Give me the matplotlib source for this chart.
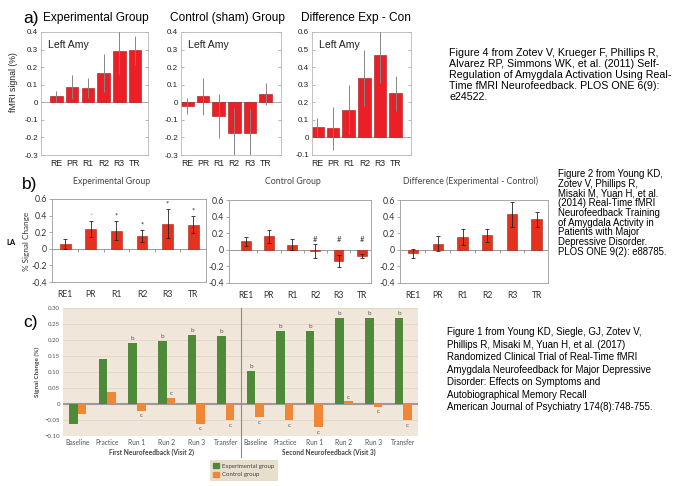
import numpy as np
import matplotlib
matplotlib.use("Agg")
import matplotlib.pyplot as plt
from matplotlib.patches import Patch

# ---------------- data ----------------
a_categories = ["RE", "PR", "R1", "R2", "R3", "TR"]
a_exp_values = [0.033, 0.088, 0.082, 0.167, 0.293, 0.295]
a_exp_errors = [0.032, 0.070, 0.055, 0.108, 0.130, 0.080]
a_con_values = [-0.022, 0.033, -0.078, -0.175, -0.177, 0.045]
a_con_errors = [0.045, 0.107, 0.125, 0.140, 0.140, 0.063]
a_dif_values = [0.057, 0.053, 0.158, 0.340, 0.468, 0.250]
a_dif_errors = [0.052, 0.123, 0.140, 0.160, 0.160, 0.100]

b_categories = ["RE1", "PR", "R1", "R2", "R3", "TR"]
b_exp_values = [0.060, 0.240, 0.220, 0.155, 0.300, 0.290]
b_exp_errors = [0.060, 0.100, 0.120, 0.075, 0.175, 0.105]
b_exp_marks = ["", "*", "*", "*", "*", "*"]
b_exp_mark_colors = ["k", "#f2a255", "#222222", "#222222", "#222222", "#222222"]
b_con_values = [0.100, 0.163, 0.060, -0.010, -0.135, -0.078]
b_con_errors = [0.060, 0.080, 0.065, 0.085, 0.070, 0.025]
b_con_marks = ["", "", "", "#", "#", "#"]
b_dif_values = [-0.040, 0.073, 0.155, 0.175, 0.430, 0.367]
b_dif_errors = [0.053, 0.090, 0.100, 0.080, 0.150, 0.090]

c_categories = ["Baseline", "Practice", "Run 1", "Run 2", "Run 3", "Transfer",
                "Baseline", "Practice", "Run 1", "Run 2", "Run 3", "Transfer"]
c_exp_values = [-0.062, 0.142, 0.190, 0.197, 0.216, 0.214,
                 0.102, 0.229, 0.229, 0.270, 0.270, 0.268]
c_con_values = [-0.031, 0.039, -0.021, 0.019, -0.062, -0.051,
                -0.041, -0.051, -0.072, 0.008, -0.009, -0.051]
c_exp_sig = ["", "", "b", "b", "b", "b", "b", "b", "b", "b", "b", "b"]
c_con_sig = ["", "", "c", "c", "c", "c", "c", "c", "c", "c", "c", "c"]
c_groups = ["First Neurofeedback (Visit 2)", "Second Neurofeedback (Visit 3)"]
c_series = ["Experimental group", "Control group"]

text_a = ["Figure 4 from Zotev V, Krueger F, Phillips R,",
          "Alvarez RP, Simmons WK, et al. (2011) Self-",
          "Regulation of Amygdala Activation Using Real-",
          "Time fMRI Neurofeedback. PLOS ONE 6(9):",
          "e24522."]
text_b = ["Figure 2 from Young KD,",
          "Zotev V, Phillips R,",
          "Misaki M, Yuan H, et al.",
          "(2014) Real-Time fMRI",
          "Neurofeedback Training",
          "of Amygdala Activity in",
          "Patients with Major",
          "Depressive Disorder.",
          "PLOS ONE 9(2): e88785."]
text_c = ["Figure 1 from Young KD, Siegle, GJ, Zotev V,",
          "Phillips R, Misaki M, Yuan H, et al. (2017)",
          "Randomized Clinical Trial of Real-Time fMRI",
          "Amygdala Neurofeedback for Major Depressive",
          "Disorder: Effects on Symptoms and",
          "Autobiographical Memory Recall",
          "American Journal of Psychiatry 174(8):748-755."]

# ---------------- layout helpers ----------------
W, H = 685, 486
fig = plt.figure(figsize=(W / 100, H / 100), dpi=100)
ARIAL = "Liberation Sans"
CAL = "Lato"


def box(l, t, r, b):
    return [l / W, 1 - b / H, (r - l) / W, (b - t) / H]


def ftext(x, y, s, **kw):
    return fig.text(x / W, 1 - y / H, s, **kw)


# ---------------- panel a ----------------
A_RED = "#ec1f26"


def panel_a(rect, vals, errs, ylim, yticks, xlim):
    ax = fig.add_axes(rect)
    x = np.arange(1, len(vals) + 1)
    ax.axhline(0, color="#a0a0a0", lw=0.6, zorder=1)
    ax.bar(x, vals, width=0.8, color=A_RED, edgecolor="#a51515", linewidth=0.4, zorder=2)
    ax.errorbar(x, vals, yerr=errs, fmt="none", ecolor="#858585", elinewidth=0.7,
                capsize=0, zorder=3)
    ax.set_xlim(*xlim)
    ax.set_ylim(*ylim)
    ax.set_yticks(yticks)
    ax.set_yticklabels([f"{t:g}" for t in yticks], family=ARIAL)
    ax.set_xticks(x)
    ax.set_xticklabels(a_categories, family=ARIAL)
    ax.tick_params(axis="y", direction="in", length=2, width=0.5, color="#999999",
                   labelsize=5.8, pad=2, right=True, labelcolor="#222222")
    ax.tick_params(axis="x", length=0, pad=3.2, labelsize=6.2, labelcolor="#222222")
    for s in ax.spines.values():
        s.set_color("#b8b8b8")
        s.set_linewidth(0.6)
    ax.text(0.07, 0.895, "Left Amy", transform=ax.transAxes, fontsize=7.6,
            family=ARIAL, va="center", ha="left", color="#222222")
    return ax


panel_a(box(40.7, 32, 148.3, 155), a_exp_values, a_exp_errors, (-0.3, 0.4),
        [-0.3, -0.2, -0.1, 0, 0.1, 0.2, 0.3, 0.4], (0.0, 6.85))
panel_a(box(180.7, 32, 281, 155), a_con_values, a_con_errors, (-0.3, 0.4),
        [-0.3, -0.2, -0.1, 0, 0.1, 0.2, 0.3, 0.4], (0.58, 6.98))
panel_a(box(311.7, 32, 411, 155), a_dif_values, a_dif_errors, (-0.1, 0.6),
        [-0.1, 0, 0.1, 0.2, 0.3, 0.4, 0.5, 0.6], (0.64, 6.98))

ftext(31, 18, "a)", fontsize=12.5, family=ARIAL, ha="center", va="center")
ftext(96, 18, "Experimental Group", fontsize=8.6, family=ARIAL, ha="center", va="center")
ftext(228, 18, "Control (sham) Group", fontsize=8.6, family=ARIAL, ha="center", va="center")
ftext(356, 18, "Difference Exp - Con", fontsize=8.6, family=ARIAL, ha="center", va="center")
ftext(13, 82, "fMRI signal (%)", fontsize=6.3, family=ARIAL, rotation=90,
      ha="center", va="center", color="#222222")

# ---------------- panel b ----------------
B_RED = "#e5321f"


def panel_b(rect, vals, errs, xlim, marks=None, mark_colors=None, mark_y=None):
    ax = fig.add_axes(rect)
    x = np.arange(1, len(vals) + 1)
    ax.axhline(0, color="#8a8a8a", lw=0.6, zorder=1)
    bounds = np.arange(1.5, len(vals), 1.0)
    ax.plot(bounds, np.zeros_like(bounds), ls="none", marker=3, ms=2.5,
            mew=0.6, color="#8a8a8a", zorder=1)
    ax.bar(x, vals, width=0.42, color=B_RED, edgecolor="#a02412", linewidth=0.4, zorder=2)
    ax.errorbar(x, vals, yerr=errs, fmt="none", ecolor="#222222", elinewidth=0.6,
                capsize=1.6, capthick=0.6, zorder=3)
    if marks is not None:
        for i, m in enumerate(marks):
            if not m:
                continue
            y = mark_y if mark_y is not None else vals[i] + errs[i] + 0.06
            col = mark_colors[i] if mark_colors is not None else "#333333"
            ax.text(x[i], y, m, ha="center", va="center", fontsize=5.5,
                    color=col, family=CAL)
    ax.set_xlim(*xlim)
    ax.set_ylim(-0.4, 0.6)
    yt = [-0.4, -0.2, 0, 0.2, 0.4, 0.6]
    ax.set_yticks(yt)
    ax.set_yticklabels([f"{t:g}" for t in yt], family=CAL)
    ax.set_xticks(x)
    ax.set_xticklabels(b_categories, family=CAL)
    ax.tick_params(axis="y", direction="out", length=2, width=0.5, color="#8a8a8a",
                   labelsize=6.3, pad=1.5, labelcolor="#333333")
    ax.tick_params(axis="x", length=0, pad=6, labelsize=6.2, labelcolor="#333333")
    for s in ax.spines.values():
        s.set_color("#9a9a9a")
        s.set_linewidth(0.6)
    return ax


panel_b(box(51.7, 199, 206, 282), b_exp_values, b_exp_errors, (0.47, 6.5),
        marks=b_exp_marks, mark_colors=b_exp_mark_colors)
panel_b(box(229, 200, 371, 283), b_con_values, b_con_errors, (0.28, 6.4),
        marks=b_con_marks, mark_y=0.13)
panel_b(box(400, 200, 548.3, 283), b_dif_values, b_dif_errors, (0.47, 6.47))

ftext(30, 185, "b)", fontsize=12.5, family=ARIAL, ha="center", va="center")
ftext(112, 181, "Experimental Group", fontsize=6.3, family=CAL, ha="center",
      va="center", color="#444444")
ftext(293, 181, "Control Group", fontsize=6.3, family=CAL, ha="center",
      va="center", color="#444444")
ftext(470, 181, "Difference (Experimental - Control)", fontsize=6.3, family=CAL,
      ha="center", va="center", color="#444444")
ftext(11, 242, "LA", fontsize=5.5, family=CAL, weight="bold", ha="center", va="center")
ftext(26, 241, "% Signal Change", fontsize=5.9, family=CAL, rotation=90,
      ha="center", va="center", color="#333333")

# ---------------- panel c ----------------
GREEN = "#4f8a3b"
ORANGE = "#f08737"
axc = fig.add_axes(box(63, 308, 418, 436))
axc.set_facecolor("#f0e7da")
xc = np.arange(len(c_categories))
yt = [-0.10, -0.05, 0, 0.05, 0.10, 0.15, 0.20, 0.25, 0.30]
for t in yt:
    axc.axhline(t, color="#dcd2c2", lw=0.5, zorder=0)
bw = 0.29
axc.bar(xc - bw / 2, c_exp_values, width=bw, color=GREEN, zorder=2, label=c_series[0])
axc.bar(xc + bw / 2, c_con_values, width=bw, color=ORANGE, zorder=2, label=c_series[1])
axc.axhline(0, color="#9b9b9b", lw=1.5, zorder=1)
for i in range(len(xc)):
    if c_exp_sig[i]:
        v = c_exp_values[i]
        axc.text(xc[i] - bw / 2, v + 0.006 if v > 0 else v - 0.006, c_exp_sig[i],
                 ha="center", va="bottom" if v > 0 else "top", fontsize=4.6,
                 color="#555555", family=CAL)
    if c_con_sig[i]:
        v = c_con_values[i]
        axc.text(xc[i] + bw / 2, v + 0.006 if v > 0 else v - 0.008, c_con_sig[i],
                 ha="center", va="bottom" if v > 0 else "top", fontsize=4.6,
                 color="#555555", family=CAL)
axc.set_xlim(-0.5, len(xc) - 0.5)
axc.set_ylim(-0.10, 0.30)
axc.set_yticks(yt)
axc.set_yticklabels(["0" if abs(t) < 1e-9 else f"{t:.2f}".replace("-", "\u2212") for t in yt],
                    family=CAL)
axc.set_xticks(xc)
axc.set_xticklabels(c_categories, family=CAL)
axc.tick_params(axis="y", length=0, pad=2, labelsize=4.4, labelcolor="#555555")
axc.tick_params(axis="x", length=0, pad=2.2, labelsize=4.8, labelcolor="#555555")
for s in axc.spines.values():
    s.set_visible(False)
axc.axvline(len(xc) / 2 - 0.5, ymin=-0.165, ymax=1, color="#8c8c8c", lw=0.8,
            clip_on=False, zorder=3)
tr = axc.get_xaxis_transform()
axc.text(2.5, -0.125, c_groups[0], transform=tr, ha="center", va="center",
         fontsize=4.8, weight="bold", family=CAL, color="#444444")
axc.text(8.5, -0.125, c_groups[1], transform=tr, ha="center", va="center",
         fontsize=4.8, weight="bold", family=CAL, color="#444444")
axc.set_ylabel("Signal Change (%)", fontsize=4.6, weight="bold", family=CAL,
               color="#444444", labelpad=3)
leg = axc.legend(handles=[Patch(color=GREEN, label=c_series[0]),
                          Patch(color=ORANGE, label=c_series[1])],
                 loc="upper left", bbox_to_anchor=(207 / W, 1 - 457 / H),
                 bbox_transform=fig.transFigure, frameon=True,
                 fancybox=False, facecolor="#e6dfcd", edgecolor="none", framealpha=1,
                 handlelength=0.9, handleheight=0.9, handletextpad=0.6,
                 labelspacing=0.5, borderpad=0.5, prop={"family": CAL, "size": 4.4})
for t in leg.get_texts():
    t.set_color("#444444")

ftext(30, 322, "c)", fontsize=12.5, family=ARIAL, ha="center", va="center")

# ---------------- citation texts ----------------
for i, line in enumerate(text_a):
    ftext(449, 52.7 + i * 11.0, line, fontsize=7.7, family=ARIAL, va="center", ha="left")
for i, line in enumerate(text_b):
    ftext(558, 174 + i * 9.7, line, fontsize=6.9, family=ARIAL, va="center", ha="left")
for i, line in enumerate(text_c):
    ftext(447, 332.3 + i * 12.45, line, fontsize=7.0, family=ARIAL, va="center", ha="left")

fig.savefig("out.png", dpi=100)
